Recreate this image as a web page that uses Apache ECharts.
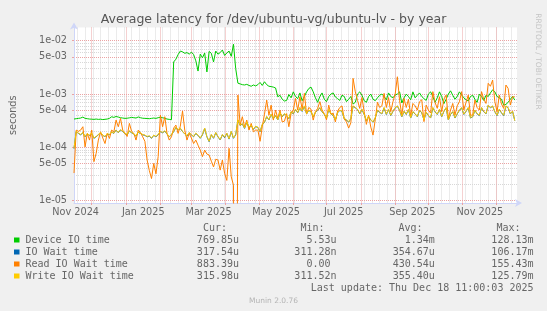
<!DOCTYPE html>
<html><head><meta charset="utf-8">
<script src="https://cdn.jsdelivr.net/npm/echarts@6/dist/echarts.min.js"></script>
<style>html,body{margin:0;padding:0;background:#f0f0f0;}#c{width:547px;height:311px;}</style>
</head><body><div id="c"></div>
<script>
// ---- data (values in microseconds, one sample every 2 days from 2024-11-15) ----
const titleText = 'Average latency for /dev/ubuntu-vg/ubuntu-lv - by year';
const seriesNames = ['Device IO time','IO Wait time','Read IO Wait time','Write IO Wait time'];
const seriesColors = ['#00cc00','#0066b3','#ff8000','#ffcc00'];
const startDate = Date.UTC(2024,10,15);
const stepDays = 2;

const deviceIOus = [
340,345,350,355,370,350,345,340,338,335,
340,335,338,332,336,340,350,375,365,380,
370,360,355,350,352,358,365,360,355,372,
360,352,350,348,345,350,355,350,360,368,
360,350,340,335,330,4000,4500,5500,6400,6200,
5800,6000,5600,6100,5500,4200,2700,5600,4800,5900,
2600,6300,5800,4000,6400,5600,6000,6700,5300,5900,
6400,5100,8600,3000,1600,1550,1500,1480,1520,1450,
1400,1480,1420,1500,1650,1450,1700,1500,1400,1380,
1350,1300,890,950,800,740,760,980,850,1100,
900,820,1050,750,900,1100,1270,1350,1100,850,
700,900,1050,800,720,900,1000,1050,880,820,
760,950,900,720,800,900,650,700,1000,1100,
950,750,700,900,1000,800,750,850,950,1000,
900,780,1050,900,850,960,1000,1100,680,850,
1000,900,780,1100,850,950,1050,900,820,760,
1000,1100,900,700,850,1100,900,660,800,1000,
1150,950,800,900,1100,960,850,780,740,900,
950,800,700,1000,900,760,950,900,1050,1200,
1100,900,850,800,620,640,700,800,900,769.85];

const ioWaitus = [
95,198,183,172,188,158,178,168,182,148,
158,172,188,168,158,178,172,193,183,212,
188,212,198,182,172,202,188,178,162,192,
182,172,168,158,162,148,168,158,172,198,
188,202,178,158,172,198,236,212,226,198,
178,162,188,172,158,182,168,148,172,226,
158,128,172,148,188,158,138,172,152,182,
143,197,148,172,326,256,276,227,296,236,
256,217,246,236,197,266,296,375,326,414,
345,394,326,444,375,424,394,345,464,424,
512,444,552,473,592,424,493,464,375,454,
493,552,464,414,355,512,424,394,326,444,
493,473,345,326,296,345,592,552,512,424,
512,414,316,375,326,296,355,493,454,424,
552,414,512,394,473,552,592,493,375,473,
414,512,355,464,424,375,493,444,326,454,
394,355,552,464,414,512,375,473,552,326,
414,464,355,424,493,552,414,473,552,355,
375,493,424,394,552,464,424,612,552,592,
464,394,512,444,394,592,552,424,473,317.54];

const readWaitus = [
33,211,200,211,244,102,183,137,211,54,
77,137,196,150,118,183,147,211,196,325,
244,350,211,183,160,282,200,183,137,211,
190,158,130,58,37,26,50,32,67,404,
244,376,183,137,158,230,262,183,250,480,
211,137,183,150,118,137,110,89,67,89,
75,72,55,43,60,58,37.5,58,32.5,24,
96,28,19.6,0,957,262,376,244,325,211,
282,196,211,211,130,244,420,771,400,620,
325,500,350,500,300,310,430,244,430,500,
830,500,890,520,1030,420,560,520,325,470,
540,720,500,430,330,620,420,440,300,480,
560,600,340,300,230,290,1970,1100,760,538,
860,470,270,404,240,170,330,700,560,600,
1030,560,860,465,717,1000,2110,750,404,830,
560,800,390,667,600,500,720,780,304,622,
500,440,1110,700,540,890,465,800,957,350,
500,667,404,600,717,1110,501,700,957,400,
404,771,560,501,1110,800,667,1590,1400,1830,
717,465,957,650,538,1475,1280,622,890,883.39];

const writeWaitus = [
96,200,185,175,190,160,180,170,185,150,
160,175,190,170,160,180,175,195,185,210,
190,215,200,185,175,205,190,180,165,195,
185,175,170,160,165,150,170,160,175,200,
190,205,180,160,175,200,240,215,230,200,
180,165,190,175,160,185,170,150,175,230,
160,130,175,150,190,160,140,175,155,185,
145,200,150,175,330,260,280,230,300,240,
260,220,250,240,200,270,300,380,330,420,
350,400,330,450,380,430,400,350,470,430,
520,450,560,480,600,430,500,470,380,460,
500,560,470,420,360,520,430,400,330,450,
500,480,350,330,300,350,600,560,520,430,
520,420,320,380,330,300,360,500,460,430,
560,420,520,400,480,560,600,500,380,480,
420,520,360,470,430,380,500,450,330,460,
400,360,560,470,420,520,380,480,560,330,
420,470,360,430,500,560,420,480,560,360,
380,500,430,400,560,470,430,620,560,600,
470,400,520,450,400,600,560,430,480,315.98];

// legend statistics (as printed)
const curVals = ['769.85u','317.54u','883.39u','315.98u'];
const minVals = ['5.53u','311.28n','0.00 ','311.52n'];
const avgVals = ['1.34m','354.67u','430.54u','355.40u'];
const maxVals = ['128.13m','106.17m','155.43m','125.79m'];
const lastUpdate = 'Last update: Thu Dec 18 11:00:03 2025';
const versionText = 'Munin 2.0.76';
const sideText = 'RRDTOOL / TOBI OETIKER';

// axis ticks
const yTickValues = [1e-5,5e-5,1e-4,5e-4,1e-3,5e-3,1e-2];
const yTickLabels = ['1e-05','5e-05','1e-04','5e-04','1e-03','5e-03','1e-02'];
const xLabelDates = [[2024,10],[2025,0],[2025,2],[2025,4],[2025,6],[2025,8],[2025,10]];
const xLabelTexts = ['Nov 2024','Jan 2025','Mar 2025','May 2025','Jul 2025','Sep 2025','Nov 2025'];

// ---- build ----
const DAY = 86400000;
const xMin = Date.UTC(2024,10,15), xMax = Date.UTC(2025,11,20);
const yMin = Math.pow(10,-5.043), yMax = Math.pow(10,-1.752);
const times = deviceIOus.map((_, i) => startDate + i * stepDays * DAY);
const toPairs = arr => arr.map((v, i) => [times[i], v > 0 ? v * 1e-6 : 1e-12]);
const allSeries = [deviceIOus, ioWaitus, readWaitus, writeWaitus];

const xLabelValues = xLabelDates.map(d => Date.UTC(d[0], d[1], 16, 12));
const monthStarts = [];
for (let y = 2024, m = 11; ; m++) { if (m > 11) { m = 0; y++; } const t = Date.UTC(y, m, 1); if (t > xMax) break; monthStarts.push(t); }
const weekStarts = [];
for (let t = Date.UTC(2024,10,18); t <= xMax; t += 7 * DAY) weekStarts.push(t);
const yMinor = [];
for (let e = -6; e <= -2; e++) [2,3,4,6,7,8,9].forEach(m => yMinor.push(m * Math.pow(10, e)));

const axisFont = 'DejaVu Sans';
const fontColor = '#666666';
const majorGrid = {color:'#eba3a3', type:[1,1], width:1};
const minorGrid = {color:'#d8d8d8', type:[1,1], width:1};

const graphics = [];
const mono = '10px "DejaVu Sans Mono"';
const hdrY = 228.3;
[['Cur:',227],['Min:',324.5],['Avg:',422.5],['Max:',520.5]].forEach(h => graphics.push({type:'text', x:h[1], y:hdrY, style:{text:h[0], font:mono, fill:fontColor, align:'right', verticalAlign:'middle'}}));
seriesNames.forEach((n, k) => {
  const y = 240 + 12 * k;
  graphics.push({type:'rect', shape:{x:14, y:y - 2.5, width:5.5, height:5}, style:{fill:seriesColors[k]}});
  graphics.push({type:'text', x:25.5, y:y, style:{text:n, font:mono, fill:fontColor, align:'left', verticalAlign:'middle'}});
  [[curVals,239],[minVals,336.5],[avgVals,434.8],[maxVals,533.5]].forEach(c => graphics.push({type:'text', x:c[1], y:y, style:{text:c[0][k], font:mono, fill:fontColor, align:'right', verticalAlign:'middle'}}));
});
graphics.push({type:'text', x:533.5, y:288, style:{text:lastUpdate, font:mono, fill:fontColor, align:'right', verticalAlign:'middle'}});
graphics.push({type:'text', x:273.5, y:301, style:{text:versionText, font:'7.5px "DejaVu Sans"', fill:'#b4b4b4', align:'center', verticalAlign:'middle'}});
graphics.push({type:'text', x:537.5, y:61.5, rotation:-Math.PI/2, style:{text:sideText, font:'7.5px "DejaVu Sans"', fill:'#c4c4c4', align:'center', verticalAlign:'middle'}});

const chart = echarts.init(document.getElementById('c'), null, {renderer:'canvas'});
chart.setOption({
  backgroundColor:'#f0f0f0',
  animation:false,
  title:{text:titleText, left:'center', top:13.5, padding:0, textStyle:{fontFamily:axisFont, fontSize:12.5, fontWeight:'normal', color:'#555555'}},
  grid:{left:67, top:27.5, width:450, height:175.5, show:true, backgroundColor:'#ffffff', borderWidth:0, containLabel:false},
  xAxis:[
    {type:'value', min:xMin, max:xMax, position:'bottom', z:1,
     axisLine:{show:true, lineStyle:{color:'#CFD6F8', width:1}, symbol:['none','arrow'], symbolSize:[6,7], symbolOffset:[0,5]},
     axisTick:{show:true, customValues:monthStarts, length:2, lineStyle:{color:'#eba3a3'}},
     axisLabel:{customValues:xLabelValues, margin:4, fontFamily:axisFont, fontSize:9.7, color:fontColor, showMinLabel:true, showMaxLabel:true,
       formatter:v => { const i = xLabelValues.findIndex(t => Math.abs(t - v) < 1000); return i >= 0 ? xLabelTexts[i] : ''; }},
     splitLine:{show:true, lineStyle:majorGrid}},
    {type:'value', min:xMin, max:xMax, position:'bottom', z:0,
     axisLine:{show:false}, axisTick:{show:false, customValues:weekStarts}, axisLabel:{show:false},
     splitLine:{show:true, lineStyle:minorGrid}}
  ],
  yAxis:[
    {type:'log', logBase:10, min:yMin, max:yMax, position:'left', z:1,
     name:'seconds', nameLocation:'middle', nameGap:56, nameTextStyle:{fontFamily:axisFont, fontSize:9.7, color:fontColor},
     axisLine:{show:true, lineStyle:{color:'#CFD6F8', width:1}, symbol:['none','arrow'], symbolSize:[6,7], symbolOffset:[0,5]},
     axisTick:{show:true, customValues:yTickValues, length:2, lineStyle:{color:'#eba3a3'}},
     axisLabel:{customValues:yTickValues, margin:7, fontFamily:axisFont, fontSize:9.7, color:fontColor,
       formatter:v => { const i = yTickValues.findIndex(t => Math.abs(t - v) / t < 1e-6); return i >= 0 ? yTickLabels[i] : ''; }},
     splitLine:{show:true, lineStyle:majorGrid}},
    {type:'log', logBase:10, min:yMin, max:yMax, position:'left', z:0,
     axisLine:{show:false}, axisTick:{show:false, customValues:yMinor}, axisLabel:{show:false},
     splitLine:{show:true, lineStyle:minorGrid}}
  ],
  series: allSeries.map((arr, k) => ({
    name:seriesNames[k], type:'line', xAxisIndex:0, yAxisIndex:0, data:toPairs(arr),
    showSymbol:false, symbol:'none', clip:true, silent:true, z:2 + k,
    lineStyle:{width:1, color:seriesColors[k]}, itemStyle:{color:seriesColors[k]}
  })),
  graphic:graphics
});
</script>
</body></html>
